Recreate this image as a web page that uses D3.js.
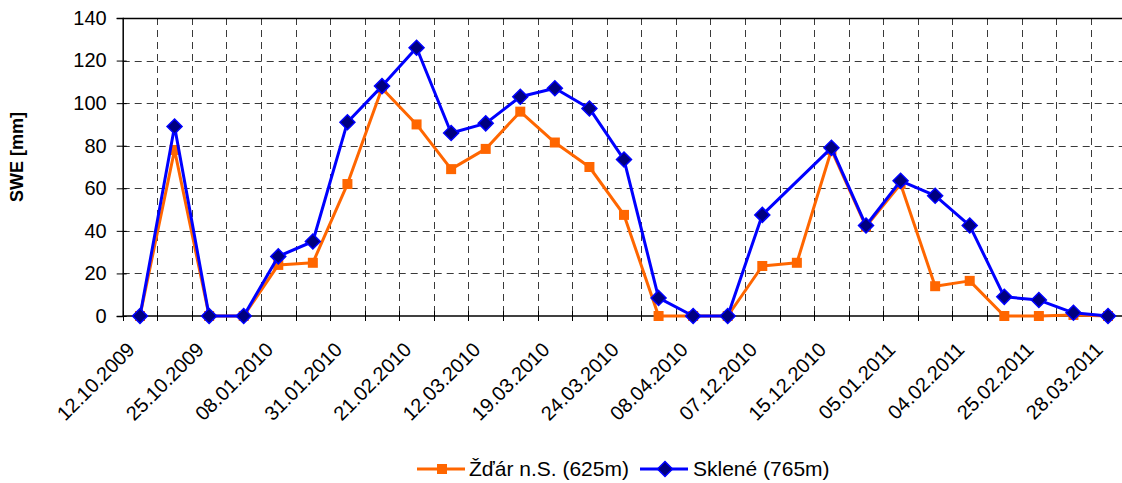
<!DOCTYPE html>
<html>
<head>
<meta charset="utf-8">
<script src="https://cdn.jsdelivr.net/npm/d3@7"></script>
<style>
  body { margin: 0; background: #fff; }
  svg { display: block; font-family: "Liberation Sans", Arial, sans-serif; }
</style>
</head>
<body>
<div id="chart"></div>
<script>
// tick labels (every second measurement date is labelled)
const tickLabels = ['12.10.2009', '25.10.2009', '08.01.2010', '31.01.2010', '21.02.2010',
  '12.03.2010', '19.03.2010', '24.03.2010', '08.04.2010', '07.12.2010', '15.12.2010',
  '05.01.2011', '04.02.2011', '25.02.2011', '28.03.2011'];

// SWE [mm] per measurement, 29 measurements
const zdar = [0, 78, 0, 0, 24, 25, 62, 107, 90, 69, 78.5, 96, 81.5, 70, 47.5, 0, 0, 0,
  23.5, 25, 78, 42, 62, 14, 16.5, 0, 0, 0.5, 0];
const sklene = [0, 89, 0, 0, 28, 35, 91, 108, 126, 86, 90.5, 103, 107, 97.5, 73.5, 8.5, 0, 0,
  47.5, null, 79, 42.5, 63.5, 56.5, 42.5, 9, 7.5, 1.5, 0];

const yTicks = [0, 20, 40, 60, 80, 100, 120, 140];

const W = 1122, H = 483;
// plot runs a little past the right edge of the picture
const m = { left: 122.7, right: 1125.3, top: 18, bottom: 316 };

const svg = d3.select('#chart').append('svg')
  .attr('width', W).attr('height', H);

const x = d3.scaleBand()
  .domain(d3.range(zdar.length))
  .range([m.left, m.right]);
const bw = x.bandwidth();
const cx = i => x(i) + bw / 2;

const y = d3.scaleLinear().domain([0, 140]).range([m.bottom, m.top]);

// grid
const grid = svg.append('g')
  .attr('stroke', '#3a3a3a').attr('stroke-width', 1).attr('stroke-dasharray', '7,5');
grid.selectAll('.hg').data(yTicks.filter(d => d > 0 && d < 140)).join('line')
  .attr('x1', m.left).attr('x2', m.right)
  .attr('y1', d => Math.round(y(d)) + 0.5).attr('y2', d => Math.round(y(d)) + 0.5);
grid.selectAll('.vg').data(d3.range(1, zdar.length)).join('line')
  .attr('x1', d => Math.round(x(d)) + 0.5).attr('x2', d => Math.round(x(d)) + 0.5)
  .attr('y1', m.top).attr('y2', m.bottom);

// top border
svg.append('line')
  .attr('x1', m.left).attr('x2', m.right)
  .attr('y1', m.top + 0.5).attr('y2', m.top + 0.5)
  .attr('stroke', '#000').attr('stroke-width', 1.5);

// y axis
const yAxis = svg.append('g')
  .attr('transform', `translate(${m.left},0)`)
  .call(d3.axisLeft(y).tickValues(yTicks).tickSize(6).tickPadding(10));
yAxis.select('.domain').attr('stroke', '#000').attr('stroke-width', 1.5);
yAxis.selectAll('.tick line').attr('stroke', '#000').attr('x2', 4).attr('x1', -6);
yAxis.selectAll('text').attr('font-size', 20).attr('fill', '#000')
  .attr('font-family', '"Liberation Sans", Arial, sans-serif');

// x axis: ticks at the band edges, labels on every second category
const xAxisG = svg.append('g').attr('transform', `translate(0,${m.bottom})`);
xAxisG.append('line')
  .attr('x1', m.left).attr('x2', m.right)
  .attr('stroke', '#000').attr('stroke-width', 1.5);
xAxisG.selectAll('.xt').data(d3.range(0, zdar.length)).join('line')
  .attr('x1', d => Math.round(x(d)) + 0.5)
  .attr('x2', d => Math.round(x(d)) + 0.5)
  .attr('y1', -5).attr('y2', 5)
  .attr('stroke', '#000');
xAxisG.selectAll('.xl').data(tickLabels).join('text')
  .attr('transform', (d, i) => `translate(${cx(i * 2) - 4},35) rotate(-45)`)
  .attr('text-anchor', 'end')
  .attr('font-size', 20)
  .text(d => d);

// y axis title
svg.append('text')
  .attr('transform', `translate(23,157) rotate(-90)`)
  .attr('text-anchor', 'middle')
  .attr('font-size', 18).attr('font-weight', 'bold')
  .text('SWE [mm]');

// lines
const line = d3.line().x(d => cx(d.i)).y(d => y(d.v));
const zData = zdar.map((v, i) => ({ i, v }));
const sData = sklene.map((v, i) => ({ i, v })).filter(d => d.v !== null);

svg.append('path').datum(zData)
  .attr('d', line).attr('fill', 'none')
  .attr('stroke', '#ff6600').attr('stroke-width', 3).attr('stroke-linejoin', 'round');
svg.selectAll('.zm').data(zData).join('rect')
  .attr('x', d => cx(d.i) - 5).attr('y', d => y(d.v) - 5)
  .attr('width', 10).attr('height', 10)
  .attr('fill', '#ff6600');

svg.append('path').datum(sData)
  .attr('d', line).attr('fill', 'none')
  .attr('stroke', '#0000ff').attr('stroke-width', 3).attr('stroke-linejoin', 'round');
const diamond = 'M0,-7.5L7.5,0L0,7.5L-7.5,0Z';
svg.selectAll('.sm').data(sData).join('path')
  .attr('d', diamond)
  .attr('transform', d => `translate(${cx(d.i)},${y(d.v)})`)
  .attr('fill', '#000080').attr('stroke', '#0000ff').attr('stroke-width', 1.5);

// legend
const legend = svg.append('g').attr('transform', 'translate(0,469)');
const lz = legend.append('g').attr('transform', 'translate(417,0)');
lz.append('line').attr('x1', 0).attr('x2', 48).attr('stroke', '#ff6600').attr('stroke-width', 3);
lz.append('rect').attr('x', 20).attr('y', -5).attr('width', 10).attr('height', 10).attr('fill', '#ff6600');
lz.append('text').attr('x', 52).attr('dy', '0.35em').attr('font-size', 21).text('Žďár n.S. (625m)');
const ls = legend.append('g').attr('transform', 'translate(640,0)');
ls.append('line').attr('x1', 0).attr('x2', 48).attr('stroke', '#0000ff').attr('stroke-width', 3);
ls.append('path').attr('d', diamond).attr('transform', 'translate(25,0)')
  .attr('fill', '#000080').attr('stroke', '#0000ff').attr('stroke-width', 1.5);
ls.append('text').attr('x', 53).attr('dy', '0.35em').attr('font-size', 21).text('Sklené (765m)');
</script>
</body>
</html>
